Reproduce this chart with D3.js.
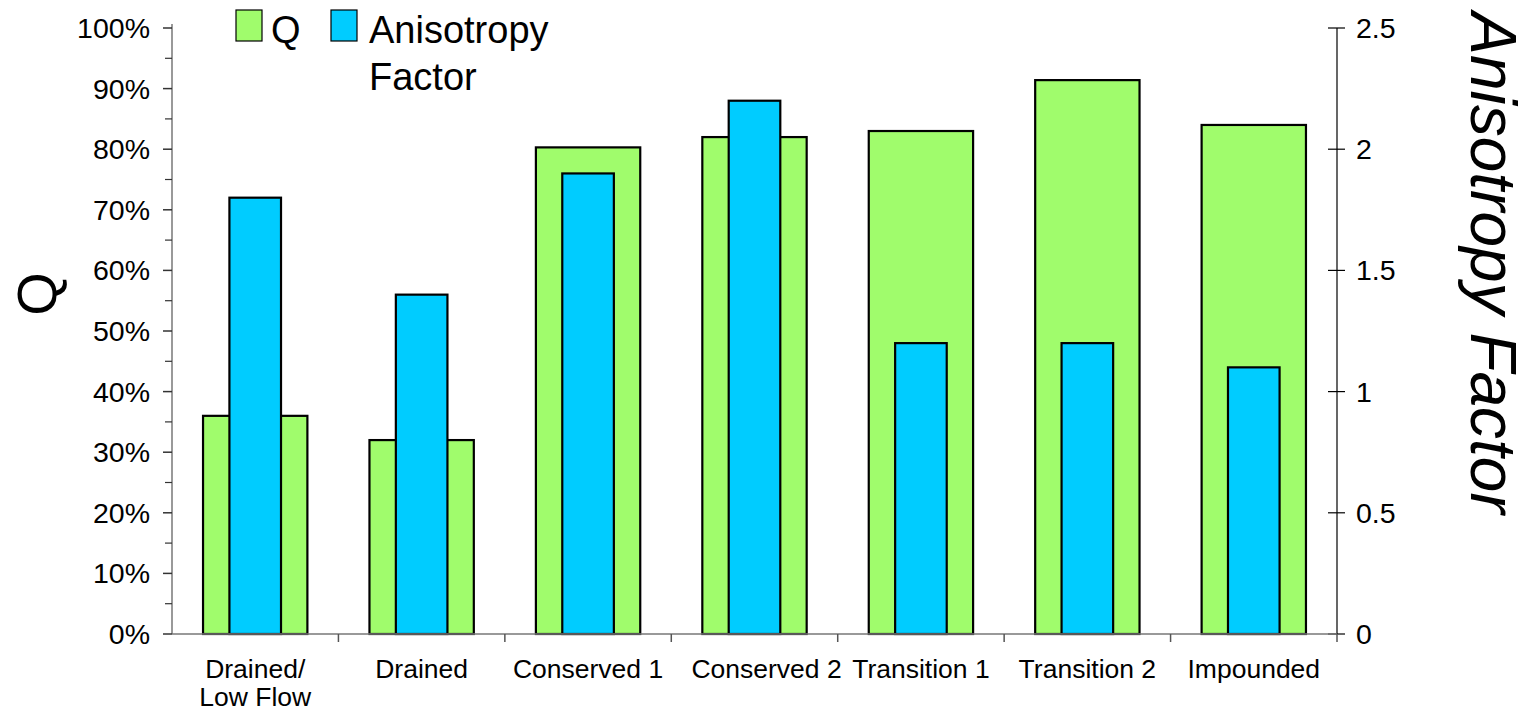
<!DOCTYPE html>
<html>
<head>
<meta charset="utf-8">
<script src="https://cdn.jsdelivr.net/npm/d3@7"></script>
<style>
  html, body { margin: 0; padding: 0; background: #fff; }
  svg { display: block; font-family: "Liberation Sans", Arial, sans-serif; }
</style>
</head>
<body>
<svg id="chart" width="1533" height="711"></svg>
<script>
// Site categories along the bottom (multi-line labels split on "\n")
const categories = ["Drained/\nLow Flow", "Drained", "Conserved 1", "Conserved 2", "Transition 1", "Transition 2", "Impounded"];
// Q per site (fraction, left axis)
const qValues = [0.36, 0.32, 0.803, 0.82, 0.83, 0.914, 0.84];
// Anisotropy factor per site (right axis)
const anisotropy = [1.80, 1.40, 1.90, 2.20, 1.20, 1.20, 1.10];
// Tick values
const leftTicks = d3.range(0, 1.0001, 0.1);
const leftMinor = d3.range(0.05, 1, 0.1);
const rightTicks = [0, 0.5, 1, 1.5, 2, 2.5];

const colQ = "#a0fc6c";
const colA = "#00ccff";

const svg = d3.select("#chart");
const L = 172, R = 1337, T = 28, B = 634;

const x = d3.scaleBand().domain(d3.range(categories.length)).range([L, R]).padding(0);
const yL = d3.scaleLinear().domain([0, 1]).range([B, T]);
const yR = d3.scaleLinear().domain([0, 2.5]).range([B, T]);

const bw = x.bandwidth();
const qW = bw * 0.627, aW = bw * 0.31;

// Q bars (wide, behind)
svg.append("g").selectAll("rect").data(qValues).join("rect")
  .attr("x", (d, i) => x(i) + bw / 2 - qW / 2)
  .attr("y", d => yL(d))
  .attr("width", qW)
  .attr("height", d => B - yL(d))
  .attr("fill", colQ).attr("stroke", "#000").attr("stroke-width", 2.2);

// Anisotropy bars (narrow, in front)
svg.append("g").selectAll("rect").data(anisotropy).join("rect")
  .attr("x", (d, i) => x(i) + bw / 2 - aW / 2)
  .attr("y", d => yR(d))
  .attr("width", aW)
  .attr("height", d => B - yR(d))
  .attr("fill", colA).attr("stroke", "#000").attr("stroke-width", 2.2);

// Left axis
const gL = svg.append("g").attr("transform", `translate(${L},0)`);
gL.append("line").attr("x1", 0).attr("x2", 0).attr("y1", T - 4).attr("y2", B).attr("stroke", "#777").attr("stroke-width", 1.5);
gL.selectAll("line.maj").data(leftTicks).join("line").attr("class", "maj")
  .attr("x1", -9).attr("x2", 0).attr("y1", d => yL(d)).attr("y2", d => yL(d))
  .attr("stroke", "#333").attr("stroke-width", 1.5);
gL.selectAll("line.min").data(leftMinor).join("line").attr("class", "min")
  .attr("x1", -7).attr("x2", 0).attr("y1", d => yL(d)).attr("y2", d => yL(d))
  .attr("stroke", "#333").attr("stroke-width", 1.2);
gL.selectAll("text").data(leftTicks).join("text")
  .attr("x", -22).attr("y", d => yL(d)).attr("dy", "0.35em")
  .attr("text-anchor", "end").attr("font-size", 28.5).attr("fill", "#000")
  .text(d => d3.format(".0%")(d));

// Right axis
const gR = svg.append("g").attr("transform", `translate(${R},0)`);
gR.append("line").attr("x1", 0).attr("x2", 0).attr("y1", T).attr("y2", B).attr("stroke", "#000").attr("stroke-width", 1.2);
gR.selectAll("line.t").data(rightTicks).join("line").attr("class", "t")
  .attr("x1", -9).attr("x2", 8).attr("y1", d => yR(d)).attr("y2", d => yR(d))
  .attr("stroke", "#000").attr("stroke-width", 1.2);
gR.selectAll("text").data(rightTicks).join("text")
  .attr("x", 19).attr("y", d => yR(d)).attr("dy", "0.35em")
  .attr("text-anchor", "start").attr("font-size", 28.5).attr("fill", "#000")
  .text(d => d);

// Bottom axis
const gB = svg.append("g");
gB.append("line").attr("x1", L).attr("x2", R).attr("y1", B).attr("y2", B).attr("stroke", "#777").attr("stroke-width", 1.5);
gB.selectAll("line.t").data(d3.range(1, categories.length + 1)).join("line").attr("class", "t")
  .attr("x1", i => x.range()[0] + i * bw).attr("x2", i => x.range()[0] + i * bw)
  .attr("y1", B).attr("y2", B + 8).attr("stroke", "#555").attr("stroke-width", 1.5);
// small horizontal nudge so the long middle label doesn't crowd its neighbour
const labelNudge = i => (i === 3 ? 12 : 0);
gB.selectAll("text").data(categories).join("text")
  .attr("transform", (d, i) => `translate(${x(i) + bw / 2 + labelNudge(i)},678)`)
  .attr("text-anchor", "middle").attr("font-size", 26.5).attr("fill", "#000")
  .each(function (d) {
    const lines = d.split("\n");
    d3.select(this).selectAll("tspan").data(lines).join("tspan")
      .attr("x", 0).attr("dy", (l, j) => j === 0 ? 0 : 28).text(l => l);
  });

// Axis titles
svg.append("text").attr("transform", "translate(56,294) rotate(-90)")
  .attr("text-anchor", "middle").attr("font-size", 56).attr("fill", "#000").text("Q");
svg.append("text").attr("transform", "translate(1471,263) rotate(90)")
  .attr("text-anchor", "middle").attr("font-size", 64).attr("font-style", "italic")
  .attr("fill", "#000").text("Anisotropy Factor");

// Legend
const legend = svg.append("g");
const legItems = [
  { label: ["Q"], color: colQ, sx: 236, tx: 271 },
  { label: ["Anisotropy", "Factor"], color: colA, sx: 331, tx: 369 }
];
legItems.forEach(it => {
  legend.append("rect").attr("x", it.sx).attr("y", 10).attr("width", 26).attr("height", 31)
    .attr("fill", it.color).attr("stroke", "#000").attr("stroke-width", 1.2);
  const t = legend.append("text").attr("x", it.tx).attr("y", 43).attr("font-size", 38).attr("fill", "#000");
  t.selectAll("tspan").data(it.label).join("tspan")
    .attr("x", it.tx).attr("dy", (l, j) => j === 0 ? 0 : 47).text(l => l);
});
</script>
</body>
</html>
